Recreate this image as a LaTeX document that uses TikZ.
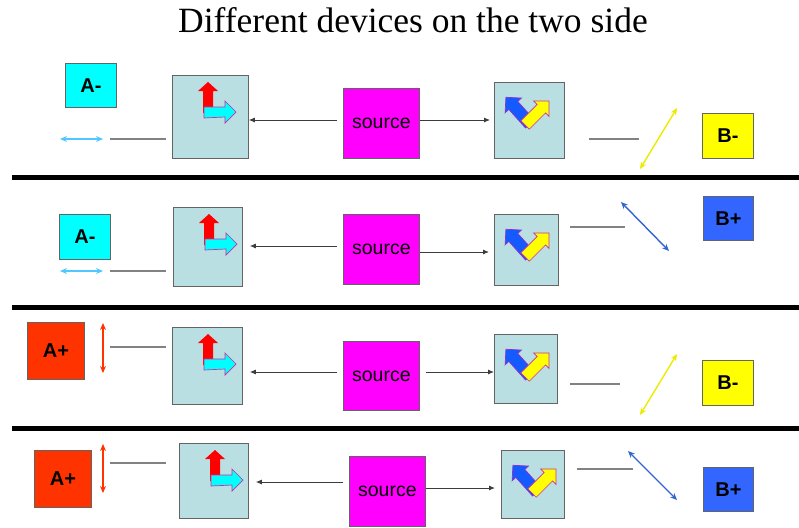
\documentclass[tikz,border=0pt]{standalone}
\usepackage{fontspec}
\setmainfont{Liberation Serif}
\newfontfamily\arialf{Liberation Sans}
\usetikzlibrary{arrows.meta}
\definecolor{devfill}{RGB}{185,223,227}
\definecolor{devline}{RGB}{100,100,100}
\definecolor{cyanb}{RGB}{0,255,255}
\definecolor{yellowb}{RGB}{255,255,0}
\definecolor{blueb}{RGB}{51,102,255}
\definecolor{redb}{RGB}{255,51,0}
\definecolor{magb}{RGB}{255,0,255}
\definecolor{glink}{RGB}{130,130,130}
\definecolor{connc}{RGB}{60,60,60}
\definecolor{cyanarr}{RGB}{80,200,255}
\definecolor{yelarr}{RGB}{235,235,0}
\definecolor{bluearr}{RGB}{50,100,210}
\definecolor{iconred}{RGB}{255,0,0}
\definecolor{iconcyan}{RGB}{0,255,255}
\definecolor{iconblue}{RGB}{20,90,255}
\definecolor{iconyel}{RGB}{255,255,0}
\definecolor{iconline}{RGB}{200,50,160}
\definecolor{iconline2}{RGB}{140,50,200}
\newcommand\leftIcon[1]{%
  \begin{scope}[shift={(#1.north west)}]
    \fill[iconred] (31,38) -- (31,16) -- (26,16) -- (36,7) -- (46,16) -- (41,16) -- (41,38) -- cycle;
    \filldraw[fill=iconcyan, draw=iconline, line width=0.7pt] (32,32) -- (53,32) -- (53,26) -- (64,37) -- (53,48) -- (53,42) -- (32,43) -- cycle;
  \end{scope}}
\newcommand\rightIcon[1]{%
  \begin{scope}[shift={(#1.north west)}]
    \begin{scope}[shift={(36,42)}, rotate=132]
      \filldraw[fill=iconblue, draw=iconline2, line width=0.7pt] (0,-6) -- (25,-6) -- (25,-11) -- (36,0) -- (25,11) -- (25,6) -- (0,6) -- cycle;
    \end{scope}
    \begin{scope}[shift={(31,43)}, rotate=45]
      \filldraw[fill=iconyel, draw=iconline, line width=0.7pt] (0,-6) -- (23,-6) -- (23,-11) -- (34,0) -- (23,11) -- (23,6) -- (0,6) -- cycle;
    \end{scope}
  \end{scope}}
\begin{document}
\begin{tikzpicture}[x=1pt,y=-1pt,
  dev/.style={draw=devline, fill=devfill, line width=0.8pt, anchor=north west, inner sep=0pt},
  lab/.style={draw=devline, line width=0.8pt, anchor=north west, inner sep=0pt,
    font=\arialf\bfseries\fontsize{20}{20}\selectfont},
  srcbox/.style={draw=devline, fill=magb, line width=0.8pt, anchor=north west, inner sep=0pt,
    minimum width=76pt, minimum height=70pt, font=\arialf\fontsize{19.5}{19.5}\selectfont},
  conn/.style={draw=connc, line width=0.9pt, -{Latex[length=6pt,width=5pt]}},
  glinkst/.style={draw=glink, line width=1.3pt},
  dbl/.style={line width=1.4pt, {Stealth[length=7pt,width=6pt]}-{Stealth[length=7pt,width=6pt]}},
  sepst/.style={draw=black, line width=5pt}]
\useasboundingbox (0,0) rectangle (799,527);

\node[font=\fontsize{35.5}{40}\selectfont] (title) at (413,20) {Different devices on the two side};

% separators
\coordinate (s1a) at (12,177); \coordinate (s1b) at (799,177);
\coordinate (s2a) at (12,307); \coordinate (s2b) at (799,307);
\coordinate (s3a) at (12,428); \coordinate (s3b) at (799,428);
\draw[sepst] (s1a) -- (s1b);
\draw[sepst] (s2a) -- (s2b);
\draw[sepst] (s3a) -- (s3b);

% ---------- Row 1
\node[lab, fill=cyanb, minimum width=51pt, minimum height=44pt] (A1) at (65,63) {A-};
\node[lab, fill=yellowb, minimum width=51pt, minimum height=45pt] (B1) at (702,113) {B-};
\node[dev, minimum width=76pt, minimum height=83pt] (L1) at (172,75) {};
\node[dev, minimum width=70pt, minimum height=76pt] (R1) at (494,82) {};
\node[srcbox] (S1) at (343,88) {source};
\leftIcon{L1}\rightIcon{R1}
\draw[conn] (S1.west |- 0,120) ++(-6,0) -- (L1.east |- 0,120);
\draw[conn, shorten >=4pt] (S1.east |- 0,120) -- (R1.west |- 0,120);
\coordinate (a1a) at (60,139); \coordinate (a1b) at (103,139);
\coordinate (g1a) at (110,139); \coordinate (g1b) at (166,139);
\coordinate (h1a) at (589,139); \coordinate (h1b) at (639,139);
\coordinate (b1a) at (640,169); \coordinate (b1b) at (677,108);
\draw[dbl, cyanarr] (a1a) -- (a1b);
\draw[glinkst] (g1a) -- (g1b);
\draw[glinkst] (h1a) -- (h1b);
\draw[dbl, yelarr] (b1a) -- (b1b);

% ---------- Row 2
\node[lab, fill=cyanb, minimum width=51pt, minimum height=45pt] (A2) at (59,214) {A-};
\node[lab, fill=blueb, minimum width=50pt, minimum height=44pt] (B2) at (703,196) {B+};
\node[dev, minimum width=69pt, minimum height=79pt] (L2) at (173,207) {};
\node[dev, minimum width=64pt, minimum height=71pt] (R2) at (494,214) {};
\node[srcbox] (S2) at (343,214) {source};
\leftIcon{L2}\rightIcon{R2}
\draw[conn, shorten >=7pt] (S2.west |- 0,246) ++(-6,0) -- (L2.east |- 0,246);
\draw[conn, shorten >=5pt] (S2.east |- 0,252) -- (R2.west |- 0,252);
\coordinate (a2a) at (60,271); \coordinate (a2b) at (103,271);
\coordinate (g2a) at (110,271); \coordinate (g2b) at (166,271);
\coordinate (h2a) at (570,227); \coordinate (h2b) at (625,227);
\coordinate (b2a) at (621,202); \coordinate (b2b) at (669,251);
\draw[dbl, cyanarr] (a2a) -- (a2b);
\draw[glinkst] (g2a) -- (g2b);
\draw[glinkst] (h2a) -- (h2b);
\draw[dbl, bluearr] (b2a) -- (b2b);

% ---------- Row 3
\node[lab, fill=redb, minimum width=57pt, minimum height=57pt] (A3) at (27,322) {A+};
\node[lab, fill=yellowb, minimum width=51pt, minimum height=45pt] (B3) at (702,360) {B-};
\node[dev, minimum width=70pt, minimum height=77pt] (L3) at (172,327) {};
\node[dev, minimum width=63pt, minimum height=69pt] (R3) at (494,334) {};
\node[srcbox, minimum height=69pt] (S3) at (343,341) {source};
\leftIcon{L3}\rightIcon{R3}
\draw[conn, shorten >=7pt] (S3.west |- 0,372) ++(-6,0) -- (L3.east |- 0,372);
\draw[conn] (S3.east |- 0,372) ++(6,0) -- (R3.west |- 0,372);
\coordinate (a3a) at (103,323); \coordinate (a3b) at (103,373);
\coordinate (g3a) at (110,347); \coordinate (g3b) at (166,347);
\coordinate (h3a) at (570,384); \coordinate (h3b) at (620,384);
\coordinate (b3a) at (640,415); \coordinate (b3b) at (677,354);
\draw[dbl, redb] (a3a) -- (a3b);
\draw[glinkst] (g3a) -- (g3b);
\draw[glinkst] (h3a) -- (h3b);
\draw[dbl, yelarr] (b3a) -- (b3b);

% ---------- Row 4
\node[lab, fill=redb, minimum width=57pt, minimum height=57pt] (A4) at (34,450) {A+};
\node[lab, fill=blueb, minimum width=50pt, minimum height=44pt] (B4) at (703,467) {B+};
\node[dev, minimum width=69pt, minimum height=75pt] (L4) at (179,443) {};
\node[dev, minimum width=63pt, minimum height=68pt] (R4) at (501,450) {};
\node[srcbox] (S4) at (349,456) {source};
\leftIcon{L4}\rightIcon{R4}
\draw[conn, shorten >=7pt] (S4.west |- 0,482) ++(-6,0) -- (L4.east |- 0,482);
\draw[conn, shorten >=6pt] (S4.east |- 0,488) -- (R4.west |- 0,488);
\coordinate (a4a) at (103,444); \coordinate (a4b) at (103,493);
\coordinate (g4a) at (110,463); \coordinate (g4b) at (166,463);
\coordinate (h4a) at (577,469); \coordinate (h4b) at (633,469);
\coordinate (b4a) at (628,451); \coordinate (b4b) at (677,500);
\draw[dbl, redb] (a4a) -- (a4b);
\draw[glinkst] (g4a) -- (g4b);
\draw[glinkst] (h4a) -- (h4b);
\draw[dbl, bluearr] (b4a) -- (b4b);
\end{tikzpicture}
\end{document}
